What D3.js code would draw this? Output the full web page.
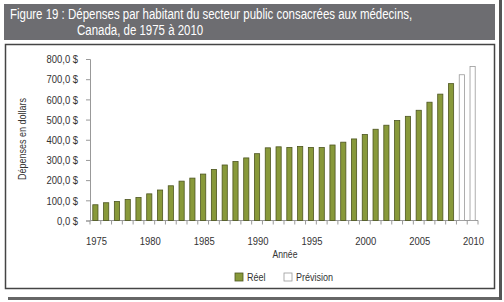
<!DOCTYPE html>
<html>
<head>
<meta charset="utf-8">
<script src="https://cdn.jsdelivr.net/npm/d3@7"></script>
<style>
  body { margin: 0; background: #fff; }
  svg { display: block; font-family: "Liberation Sans", Arial, sans-serif; }
</style>
</head>
<body>
<svg id="chart"></svg>
<script>
const width = 504, height = 302

// data
const years = d3.range(1975, 2011)
const actual = [78, 88, 94, 104, 114, 132, 151, 172, 195, 210,
                230, 253, 275, 292, 310, 331, 360, 365, 362, 367,
                362, 362, 374, 388, 404, 426, 452, 472, 495, 516,
                546, 586, 626, 678]
const forecast = [722, 763]
const yTicks = [0, 100, 200, 300, 400, 500, 600, 700, 800]
const xLabels = [1975, 1980, 1985, 1990, 1995, 2000, 2005, 2010]

const data = years.map((y, i) => ({
  year: y,
  value: i < actual.length ? actual[i] : forecast[i - actual.length],
  forecast: i >= actual.length
}))

const svg = d3.select('#chart').attr('width', width).attr('height', height)

// frame shadow
svg.append('rect').attr('x', 8).attr('y', 297).attr('width', 494).attr('height', 3).attr('fill', '#666')
svg.append('rect').attr('x', 499).attr('y', 0).attr('width', 3).attr('height', 300).attr('fill', '#555')

// title bar; the title is squeezed with a transform to mimic the condensed face
svg.append('rect').attr('x', 4).attr('y', 4).attr('width', 491).attr('height', 36).attr('fill', '#6d6d71')
const title = svg.append('g').attr('transform', 'translate(10,0) scale(0.765,1)')
title.append('text').attr('x', 0).attr('y', 19.5).attr('fill', '#fff').attr('font-size', 15)
  .text('Figure 19 : Dépenses par habitant du secteur public consacrées aux médecins,')
title.append('text').attr('x', 67 / 0.765).attr('y', 35.5).attr('fill', '#fff').attr('font-size', 15)
  .text('Canada, de 1975 à 2010')

// chart box
svg.append('rect').attr('x', 5.5).attr('y', 44.5).attr('width', 489).attr('height', 244)
  .attr('fill', '#fff').attr('stroke', '#444').attr('stroke-width', 1.5)

const x = d3.scaleBand().domain(years).range([90, 478]).paddingInner(0.52).paddingOuter(0.26)
const y = d3.scaleLinear().domain([0, 800]).range([220.5, 59])

// y axis
const yAxis = svg.append('g').attr('transform', 'translate(90,0)')
  .call(d3.axisLeft(y).tickValues(yTicks).tickSize(4).tickPadding(8)
    .tickFormat(d => d3.format('.1f')(d).replace('.', ',') + ' $'))
yAxis.select('.domain').attr('stroke', '#999')
yAxis.selectAll('line').attr('stroke', '#999')
yAxis.selectAll('text').attr('font-size', 11.5).attr('fill', '#333').attr('font-family', null)

// x axis: ticks at every year boundary
const xAxis = svg.append('g').attr('transform', 'translate(0,220.5)')
xAxis.append('line').attr('x1', 90).attr('x2', 478).attr('stroke', '#999')
xAxis.selectAll('line.tick').data(years.concat([2011])).enter().append('line')
  .attr('class', 'tick')
  .attr('x1', d => d === 2011 ? 478 : x(d) - x.step() * x.paddingInner() / 2)
  .attr('x2', d => d === 2011 ? 478 : x(d) - x.step() * x.paddingInner() / 2)
  .attr('y1', 0).attr('y2', 4).attr('stroke', '#999')
xAxis.selectAll('text').data(xLabels).enter().append('text')
  .attr('x', d => x(d) + x.bandwidth() / 2 + 1)
  .attr('y', 24).attr('text-anchor', 'middle').attr('font-size', 11.5).attr('fill', '#333')
  .text(d => d)

// bars
svg.selectAll('rect.bar').data(data).enter().append('rect')
  .attr('class', 'bar')
  .attr('x', d => x(d.year))
  .attr('y', d => y(d.value))
  .attr('width', x.bandwidth())
  .attr('height', d => y(0) - y(d.value))
  .attr('fill', d => d.forecast ? '#fff' : '#88993a')
  .attr('stroke', d => d.forecast ? '#999' : '#4d5520')
  .attr('stroke-width', 0.8)

// axis titles
svg.append('text').attr('transform', 'translate(26,139) rotate(-90)')
  .attr('text-anchor', 'middle').attr('font-size', 11).attr('fill', '#333')
  .text('Dépenses en dollars')
svg.append('text').attr('x', 285).attr('y', 258).attr('text-anchor', 'middle')
  .attr('font-size', 10.5).attr('fill', '#333').text('Année')

// legend
const legend = [{ label: 'Réel', fill: '#88993a', stroke: '#4d5520', x: 235 },
                { label: 'Prévision', fill: '#fff', stroke: '#999', x: 284 }]
const lg = svg.selectAll('g.legend').data(legend).enter().append('g')
  .attr('transform', d => `translate(${d.x},273)`)
lg.append('rect').attr('width', 8).attr('height', 8)
  .attr('fill', d => d.fill).attr('stroke', d => d.stroke).attr('stroke-width', 0.8)
lg.append('text').attr('x', 12).attr('y', 8).attr('font-size', 11).attr('fill', '#333')
  .text(d => d.label)

// the original uses a condensed face: squeeze the chart labels horizontally
svg.selectAll('text').filter(function () { return this.parentNode !== title.node() }).each(function () {
  const w = this.getComputedTextLength()
  d3.select(this).attr('textLength', w * 0.82).attr('lengthAdjust', 'spacingAndGlyphs')
})
</script>
</body>
</html>
